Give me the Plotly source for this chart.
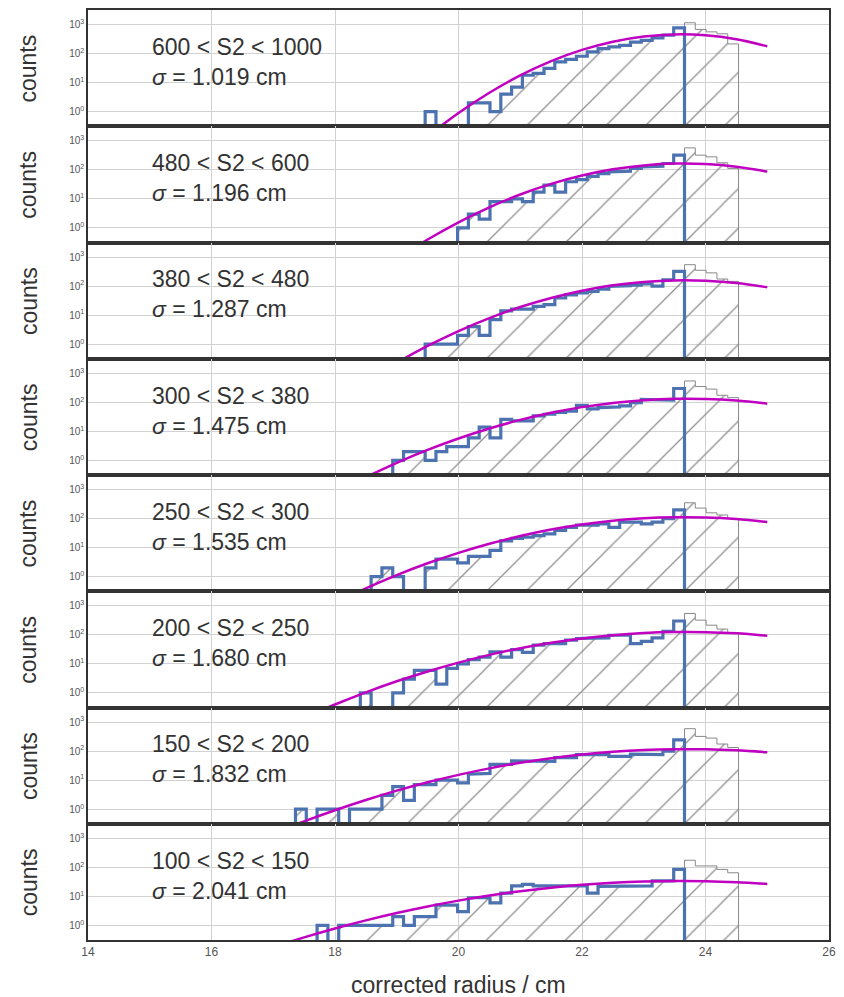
import numpy as np
import plotly.graph_objects as go
from plotly.subplots import make_subplots

# ---------------- data ----------------
BIN_EDGES = [17.185, 17.36, 17.535, 17.71, 17.885, 18.06, 18.235, 18.41, 18.585, 18.76,
             18.935, 19.11, 19.285, 19.46, 19.635, 19.81, 19.985, 20.16, 20.335, 20.51,
             20.685, 20.86, 21.035, 21.21, 21.385, 21.56, 21.735, 21.91, 22.085, 22.26,
             22.435, 22.61, 22.785, 22.96, 23.135, 23.31, 23.485, 23.66, 23.835, 24.01,
             24.185, 24.36, 24.535]
N_SELECTED = 37  # bins kept in the blue (selected) histogram

S2_LABELS = ["600 < S2 < 1000", "480 < S2 < 600", "380 < S2 < 480", "300 < S2 < 380",
             "250 < S2 < 300", "200 < S2 < 250", "150 < S2 < 200", "100 < S2 < 150"]
SIGMAS = ["1.019", "1.196", "1.287", "1.475", "1.535", "1.680", "1.832", "2.041"]

counts_600_1000 = [0,0,0,0,0,0,0,0,0,0,0,0,0, 1,0,0,0,2,2,1,4,7,18,21,31,52,63,81,114,148,170,191,250,285,350,430,770]
counts_480_600 = [0]*16 + [1,3,2,8,8,10,8,17,30,17,39,46,60,74,85,90,112,126,134,165,320]
counts_380_480 = [0]*13 + [1,1,1,2,4,2,7,14,16,16,20,23,39,50,58,66,79,97,103,108,118,100,165,320]
counts_300_380 = [0]*10 + [1,2,2,1,2,3,3,6,14,6,26,23,23,34,39,45,50,79,60,66,70,75,97,126,120,120,300]
counts_250_300 = [0]*8 + [1,2,1,0,0,2,4,4,3,5,5,8,17,21,23,26,30,39,50,60,60,66,50,75,75,66,75,100,200]
counts_200_250 = [0]*7 + [1,0,0,1,3,6,6,2,7,10,14,17,26,17,31,25,44,50,50,66,75,75,79,97,97,50,60,79,133,300]
counts_150_200 = [0] + [1,0,1,1,0,1,1,1,3,6,2,7,7,10,10,8,16,17,35,35,46,46,44,44,60,60,75,79,75,66,66,79,79,75,100,245]
counts_100_150 = [0]*3 + [1,0,1,1,1,1,1,2,1,2,2,5,5,3,9,9,6,13,23,26,23,22,22,23,23,13,22,22,22,23,23,34,34,85]

tail_600_1000 = [1150, 680, 560, 480, 215]
tail_480_600 = [570, 320, 280, 175, 112]
tail_380_480 = [545, 350, 285, 175, 145]
tail_300_380 = [545, 350, 285, 175, 145]
tail_250_300 = [350, 230, 158, 133, 100]
tail_200_250 = [545, 320, 215, 158, 120]
tail_150_200 = [590, 320, 280, 175, 133]
tail_100_150 = [175, 112, 112, 85, 65]

CURVE_X = [16.5, 17.0, 17.5, 18.0, 18.5, 19.0, 19.5, 20.0, 20.5, 21.0, 21.5, 22.0,
           22.5, 23.0, 23.5, 24.0, 24.5, 25.0]
fit_600_1000 = [None, None, None, None, None, 0.017, 0.14, 0.90, 4.5, 17.7, 55, 134, 257, 387, 458, 426, 311, 179]
fit_480_600 = [None, None, None, None, 0.016, 0.086, 0.40, 1.57, 5.15, 14.2, 32.8, 63.7, 104, 142, 164, 158, 128, 87]
fit_380_480 = [None, None, None, 0.010, 0.053, 0.23, 0.87, 2.83, 7.9, 19, 39, 69.5, 106, 139, 157, 152, 127, 91]
fit_300_380 = [None, None, 0.019, 0.076, 0.266, 0.83, 2.31, 5.7, 12.6, 24.9, 43.7, 68.5, 95.5, 119, 132, 130, 115, 90]
fit_250_300 = [None, 0.0094, 0.037, 0.128, 0.40, 1.14, 2.9, 6.6, 13.6, 25.2, 42, 62.9, 84.6, 102, 111, 109, 96, 76]
fit_200_250 = [0.013, 0.044, 0.139, 0.40, 1.05, 2.52, 5.5, 11.1, 20.5, 34.7, 53.5, 75.5, 97.6, 115.5, 125, 124, 112.5, 93]
fit_150_200 = [0.052, 0.146, 0.38, 0.92, 2.08, 4.36, 8.45, 15.2, 25.4, 39.5, 56.9, 76, 94.4, 108.8, 116, 115.5, 106, 91]
fit_100_150 = [0.080, 0.18, 0.39, 0.79, 1.50, 2.68, 4.52, 7.17, 10.7, 15.1, 20.0, 25.0, 29.4, 32.6, 34, 33.4, 30.8, 26.9]

PANELS = [
    (counts_600_1000, tail_600_1000, fit_600_1000),
    (counts_480_600, tail_480_600, fit_480_600),
    (counts_380_480, tail_380_480, fit_380_480),
    (counts_300_380, tail_300_380, fit_300_380),
    (counts_250_300, tail_250_300, fit_250_300),
    (counts_200_250, tail_200_250, fit_200_250),
    (counts_150_200, tail_150_200, fit_150_200),
    (counts_100_150, tail_100_150, fit_100_150),
]

# ---------------- style ----------------
BLUE = "#4c72b0"
MAGENTA = "#c000c0"
GRAY = "#8a8a8a"
GRID = "#d2d2d2"
FRAME = "#333333"
FONT = "Liberation Sans, Arial, sans-serif"
FLOOR = 1e-2


def step_xy(edges, counts):
    e = np.asarray(edges, float)
    c = np.asarray(counts, float)
    c = np.where(c > 0, c, FLOOR)
    xs = np.concatenate([[e[0]], np.repeat(e, 2)[1:-1], [e[-1]]])
    ys = np.concatenate([[FLOOR], np.repeat(c, 2), [FLOOR]])
    return xs, ys


n = len(PANELS)
fig = make_subplots(rows=n, cols=1, shared_xaxes=True, vertical_spacing=0)

for i, (blue, tail, fit) in enumerate(PANELS):
    r = i + 1
    gx, gy = step_xy(BIN_EDGES, list(blue) + list(tail))
    fig.add_trace(go.Scatter(
        x=gx, y=gy, mode="lines", fill="toself",
        fillcolor="rgba(0,0,0,0)",
        fillpattern=dict(shape="/", size=28, solidity=0.045, fgcolor="#8e8e8e",
                         bgcolor="rgba(0,0,0,0)", fillmode="replace"),
        line=dict(color=GRAY, width=1), hoverinfo="skip"), row=r, col=1)
    bx, by = step_xy(BIN_EDGES[:N_SELECTED + 1], blue)
    fig.add_trace(go.Scatter(
        x=bx, y=by, mode="lines", line=dict(color=BLUE, width=3.2),
        hoverinfo="skip"), row=r, col=1)
    fig.add_trace(go.Scatter(
        x=CURVE_X, y=fit, mode="lines",
        line=dict(color=MAGENTA, width=2.5, shape="spline"),
        hoverinfo="skip"), row=r, col=1)

    yname = "y" if r == 1 else f"y{r}"
    fig.update_yaxes(
        type="log", range=[-0.5, 3.5],
        tickvals=[1, 10, 100, 1000],
        ticktext=["10<sup>0</sup>", "10<sup>1</sup>", "10<sup>2</sup>", "10<sup>3</sup>"],
        tickfont=dict(family=FONT, size=10, color="#555555"),
        showgrid=True, gridcolor=GRID, gridwidth=1.3,
        showline=True, mirror=True, linecolor=FRAME, linewidth=1.6,
        ticks="", zeroline=False, row=r, col=1)
    fig.update_xaxes(
        range=[14, 26], tickvals=[14, 16, 18, 20, 22, 24, 26],
        tickfont=dict(family=FONT, size=12, color="#555555"),
        showgrid=True, gridcolor=GRID, gridwidth=1.3,
        showline=True, mirror=True, linecolor=FRAME, linewidth=1.6,
        ticks="", zeroline=False, row=r, col=1)

    fig.add_annotation(text=S2_LABELS[i].replace("<", "&lt;"),
                       xref="x", x=15.0, yref=f"{yname} domain", y=0.682,
                       xanchor="left", yanchor="middle", showarrow=False,
                       font=dict(family=FONT, size=23, color="#333333"))
    fig.add_annotation(text=f"<i>σ</i> = {SIGMAS[i]} cm",
                       xref="x", x=15.0, yref=f"{yname} domain", y=0.425,
                       xanchor="left", yanchor="middle", showarrow=False,
                       font=dict(family=FONT, size=23, color="#333333"))
    fig.add_annotation(text="counts", textangle=-90,
                       xref="paper", x=-60 / 747, yref=f"{yname} domain", y=0.5,
                       xanchor="center", yanchor="middle", showarrow=False,
                       font=dict(family=FONT, size=23, color="#333333"))

fig.add_annotation(text="corrected radius / cm", xref="paper", x=0.5,
                   yref="paper", y=-45 / 932, xanchor="center", yanchor="middle",
                   showarrow=False, font=dict(family=FONT, size=23, color="#333333"))

fig.update_layout(
    width=844, height=997,
    margin=dict(l=88, r=9, t=8, b=57),
    plot_bgcolor="white", paper_bgcolor="white",
    showlegend=False,
    font=dict(family=FONT),
)

fig.write_html("out.html")
